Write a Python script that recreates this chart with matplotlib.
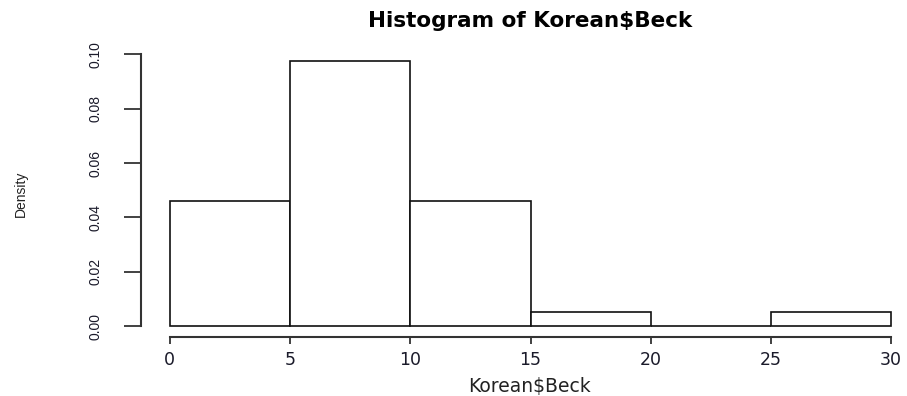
import numpy as np
import matplotlib
matplotlib.use("Agg")
import matplotlib.pyplot as plt

# Korean$Beck scores binned in steps of 5 (39 observations)
breaks = [0, 5, 10, 15, 20, 25, 30]
counts = [9, 19, 9, 1, 0, 1]
xticks = [0, 5, 10, 15, 20, 25, 30]
yticks = [0.00, 0.02, 0.04, 0.06, 0.08, 0.10]

n = sum(counts)
widths = np.diff(breaks)
density = np.array(counts) / (n * widths)

fig = plt.figure(figsize=(9.07, 3.96), dpi=100)
W, H = 907, 396
ax = fig.add_axes([141 / W, 59 / H, 779 / W, 286.5 / H])

ax.bar(breaks[:-1], density, width=widths, align="edge",
       facecolor="white", edgecolor="#111111", linewidth=1.2)

# R-style axis ranges: 4% padding around the data range
xr = breaks[-1] - breaks[0]
ax.set_xlim(breaks[0] - 0.04 * xr, breaks[-1] + 0.04 * xr)
ymax = density.max()
ax.set_ylim(-0.04 * ymax, ymax * 1.04)

for s in ["top", "right"]:
    ax.spines[s].set_visible(False)
ax.spines["left"].set_bounds(yticks[0], yticks[-1])
ax.spines["bottom"].set_bounds(xticks[0], xticks[-1])
for s in ["left", "bottom"]:
    ax.spines[s].set_linewidth(1.5)
    ax.spines[s].set_color("#333333")

ax.set_xticks(xticks)
ax.set_xticklabels([str(v) for v in xticks], fontsize=12.5, family="DejaVu Sans",
                   color="#1a1a2a")
ax.tick_params(axis="x", length=5, width=1.3, color="#333333", pad=5)

ax.set_yticks(yticks)
ax.set_yticklabels([f"{v:.2f}" for v in yticks], fontsize=10,
                   family="Liberation Sans", color="#1a1a2a", rotation=90,
                   va="center")
ax.tick_params(axis="y", length=12, width=1.3, color="#333333", pad=16)

fig.text(530 / W, 1 - 27 / H, "Histogram of Korean$Beck", ha="center",
         va="baseline", fontsize=15.5, fontweight="bold", family="DejaVu Sans")
fig.text(530 / W, 1 - 392 / H, "Korean$Beck", ha="center", va="baseline",
         fontsize=13.5, family="DejaVu Sans", color="#222222")
fig.text(21 / W, 1 - 194 / H, "Density", ha="center", va="center",
         rotation=90, fontsize=10, family="Liberation Sans", color="#222222")

fig.savefig("out.png", dpi=100)
